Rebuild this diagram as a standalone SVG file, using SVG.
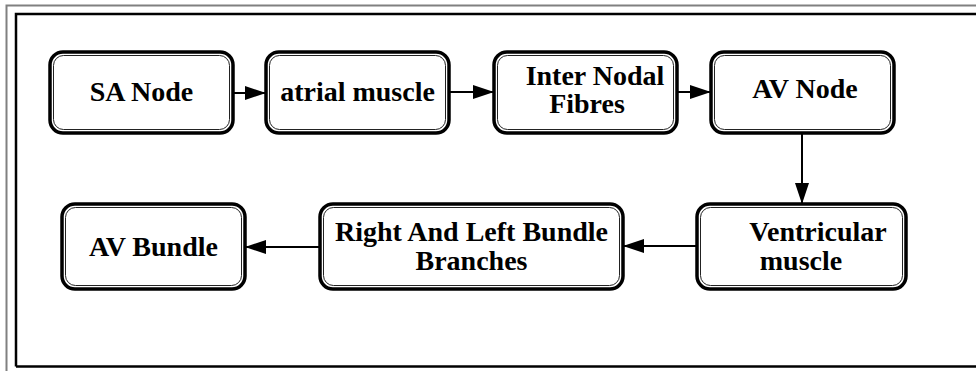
<svg xmlns="http://www.w3.org/2000/svg" width="976" height="371" viewBox="0 0 976 371">
<style>
.box{fill:#fff;stroke:#000;stroke-width:3.5}
.inner{fill:none;stroke:#222;stroke-width:1}
.lbl{font-family:"Liberation Serif","Times New Roman",serif;font-weight:bold;font-size:28px;fill:#000;text-anchor:middle}
.con{stroke:#000;stroke-width:2;fill:none}
</style>
<defs>
<marker id="ah" viewBox="0 0 21 14" refX="21" refY="7" markerWidth="21" markerHeight="14" markerUnits="userSpaceOnUse" orient="auto">
<path d="M0,0 L21,7 L0,14 Z" fill="#000"/>
</marker>
</defs>
<rect x="0" y="0" width="976" height="371" fill="#fff"/>
<g id="frame">
<polyline points="976,5.5 6.5,5.5 6.5,371" fill="none" stroke="#808080" stroke-width="2"/>
<polyline points="976,14 16,14 16,366.5" fill="none" stroke="#000" stroke-width="2.5"/>
<line x1="976" y1="366.5" x2="16" y2="366.5" stroke="#000" stroke-width="2.5"/>
</g>
<g id="connectors">
<line class="con" x1="233" y1="93" x2="266" y2="93" marker-end="url(#ah)"/>
<line class="con" x1="449" y1="92" x2="494" y2="92" marker-end="url(#ah)"/>
<line class="con" x1="677" y1="92" x2="711" y2="92" marker-end="url(#ah)"/>
<line class="con" x1="802" y1="133" x2="802" y2="204" marker-end="url(#ah)"/>
<line class="con" x1="697" y1="246" x2="623" y2="246" marker-end="url(#ah)"/>
<line class="con" x1="320" y1="247" x2="245" y2="247" marker-end="url(#ah)"/>
</g>
<g id="sa-node">
<rect class="box" x="50" y="52" width="183" height="81" rx="13"/>
<rect class="inner" x="53.5" y="55.5" width="176" height="74" rx="10"/>
<text class="lbl" x="141.5" y="101">SA Node</text>
</g>
<g id="atrial-muscle">
<rect class="box" x="266" y="52" width="183" height="81" rx="13"/>
<rect class="inner" x="269.5" y="55.5" width="176" height="74" rx="10"/>
<text class="lbl" x="357.5" y="101">atrial muscle</text>
</g>
<g id="inter-nodal-fibres">
<rect class="box" x="494" y="52" width="183" height="81" rx="13"/>
<rect class="inner" x="497.5" y="55.5" width="176" height="74" rx="10"/>
<text class="lbl" x="595" y="85">Inter Nodal</text>
<text class="lbl" x="587" y="113">Fibres</text>
</g>
<g id="av-node">
<rect class="box" x="711" y="52" width="183" height="81" rx="13"/>
<rect class="inner" x="714.5" y="55.5" width="176" height="74" rx="10"/>
<text class="lbl" x="805" y="98">AV Node</text>
</g>
<g id="ventricular-muscle">
<rect class="box" x="697" y="204" width="209" height="85" rx="13"/>
<rect class="inner" x="700.5" y="207.5" width="202" height="78" rx="10"/>
<text class="lbl" x="818" y="241">Ventricular</text>
<text class="lbl" x="801" y="270">muscle</text>
</g>
<g id="right-left-bundle-branches">
<rect class="box" x="320" y="204" width="303" height="85" rx="13"/>
<rect class="inner" x="323.5" y="207.5" width="296" height="78" rx="10"/>
<text class="lbl" x="471.5" y="241">Right And Left Bundle</text>
<text class="lbl" x="471.5" y="270">Branches</text>
</g>
<g id="av-bundle">
<rect class="box" x="62" y="204" width="183" height="85" rx="13"/>
<rect class="inner" x="65.5" y="207.5" width="176" height="78" rx="10"/>
<text class="lbl" x="153.5" y="256">AV Bundle</text>
</g>
</svg>
